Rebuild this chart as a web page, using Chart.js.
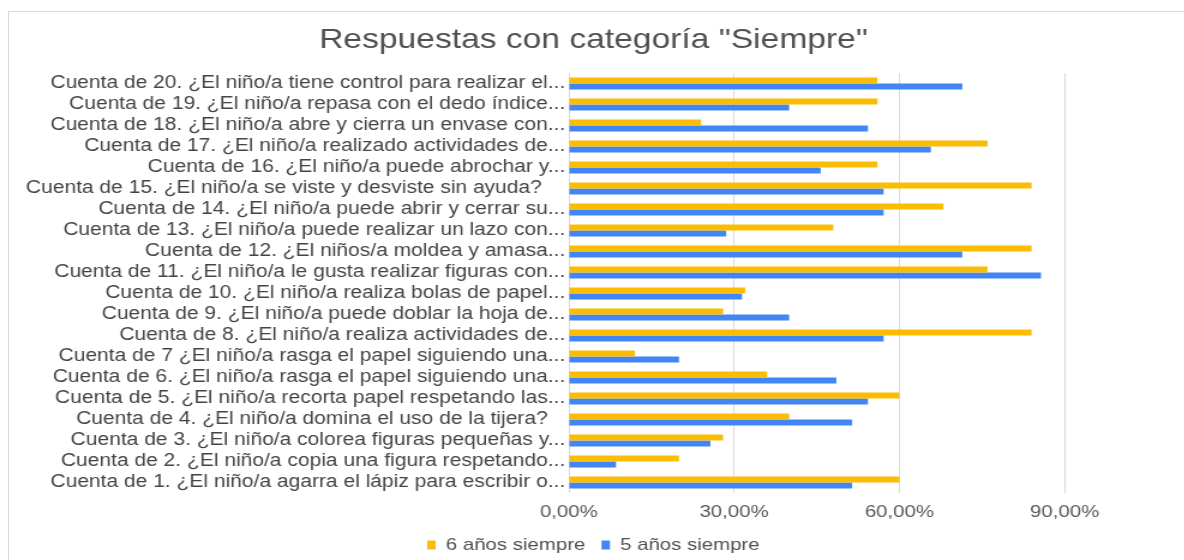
<!DOCTYPE html>
<html>
<head>
<meta charset="utf-8">
<script src="https://cdn.jsdelivr.net/npm/chart.js@4/dist/chart.umd.min.js"></script>
<style>
  html, body { margin: 0; padding: 0; background: #fff; }
  #wrap { position: relative; width: 1184px; height: 560px; overflow: hidden; background: #fff; }
  #frame { position: absolute; left: 8px; top: 11px; width: 1300px; height: 700px;
           border-left: 1px solid #d9d9d9; border-top: 1px solid #d9d9d9; }
  /* the reference picture is stretched sideways, so the canvas is too */
  #chart { position: absolute; left: 0; top: 0; width: 987px; height: 560px;
           transform: scaleX(1.2); transform-origin: 0 0; }
</style>
</head>
<body>
<div id="wrap">
  <div id="frame"></div>
  <canvas id="chart" width="987" height="560"></canvas>
</div>
<script>
const categories = [
    'Cuenta de 20. ¿El niño/a tiene control para realizar el...',
    'Cuenta de 19. ¿El niño/a repasa con el dedo índice...',
    'Cuenta de 18. ¿El niño/a abre y cierra un envase con...',
    'Cuenta de 17. ¿El niño/a realizado actividades de...',
    'Cuenta de 16. ¿El niño/a puede abrochar y...',
    'Cuenta de 15. ¿El niño/a se viste y desviste sin ayuda?    ',
    'Cuenta de 14. ¿El niño/a puede abrir y cerrar su...',
    'Cuenta de 13. ¿El niño/a puede realizar un lazo con...',
    'Cuenta de 12. ¿El niños/a moldea y amasa...',
    'Cuenta de 11. ¿El niño/a le gusta realizar figuras con...',
    'Cuenta de 10. ¿El niño/a realiza bolas de papel...',
    'Cuenta de 9. ¿El niño/a puede doblar la hoja de...',
    'Cuenta de 8. ¿El niño/a realiza actividades de...',
    'Cuenta de 7 ¿El niño/a rasga el papel siguiendo una...',
    'Cuenta de 6. ¿El niño/a rasga el papel siguiendo una...',
    'Cuenta de 5. ¿El niño/a recorta papel respetando las...',
    'Cuenta de 4. ¿El niño/a domina el uso de la tijera?   ',
    'Cuenta de 3. ¿El niño/a colorea figuras pequeñas y...',
    'Cuenta de 2. ¿El niño/a copia una figura respetando...',
    'Cuenta de 1. ¿El niño/a agarra el lápiz para escribir o...'
];

// percentages, same order as categories (20 -> 1)
const sixYears = [56, 56, 24, 76, 56, 84, 68, 48, 84, 76, 32, 28, 84, 12, 36, 60, 40, 28, 20, 60];
const fiveYears = [71.43, 40.00, 54.29, 65.71, 45.71, 57.14, 57.14, 28.57, 71.43, 85.71,
                   31.43, 40.00, 57.14, 20.00, 48.57, 54.29, 51.43, 25.71, 8.57, 51.43];

const seriesNames = ['6 años siempre', '5 años siempre'];
const xTickValues = [0, 30, 60, 90];
const chartTitle = 'Respuestas con categoría "Siempre"';

const fontFamily = '"Liberation Sans", Arial, sans-serif';

const ctx = document.getElementById('chart').getContext('2d');
new Chart(ctx, {
    type: 'bar',
    data: {
        labels: categories,
        datasets: [
            { label: seriesNames[0], data: sixYears, backgroundColor: '#FBBC04', borderWidth: 0 },
            { label: seriesNames[1], data: fiveYears, backgroundColor: '#4285F4', borderWidth: 0 }
        ]
    },
    options: {
        indexAxis: 'y',
        responsive: false,
        animation: false,
        devicePixelRatio: 1,
        datasets: { bar: { categoryPercentage: 0.57, barPercentage: 1.0 } },
        layout: { padding: { left: 10, right: 8, top: 11, bottom: 0 } },
        scales: {
            x: {
                min: 0,
                max: 110,
                afterBuildTicks: scale => { scale.ticks = xTickValues.map(v => ({ value: v })); },
                afterFit: scale => { scale.height = 30; },
                grid: { color: '#d9d9d9', lineWidth: 1, drawTicks: false },
                border: { display: false },
                ticks: {
                    padding: 9,
                    maxRotation: 0,
                    color: '#595959',
                    font: { family: fontFamily, size: 17 },
                    callback: v => v.toFixed(2).replace('.', ',') + '%'
                }
            },
            y: {
                afterFit: scale => { scale.width = 464; },
                grid: { display: false, drawTicks: false },
                border: { display: false },
                ticks: {
                    autoSkip: false,
                    padding: 3,
                    color: '#444444',
                    font: { family: fontFamily, size: 17.5 }
                }
            }
        },
        plugins: {
            title: {
                display: true,
                text: chartTitle,
                color: '#505050',
                font: { family: fontFamily, size: 28, weight: 'normal' },
                padding: { top: 12, bottom: 16.4 }
            },
            legend: {
                position: 'bottom',
                maxHeight: 37,
                labels: {
                    boxWidth: 7,
                    boxHeight: 9,
                    padding: 13.5,
                    color: '#505050',
                    font: { family: fontFamily, size: 17 }
                }
            },
            tooltip: { enabled: false }
        }
    }
});
</script>
</body>
</html>
